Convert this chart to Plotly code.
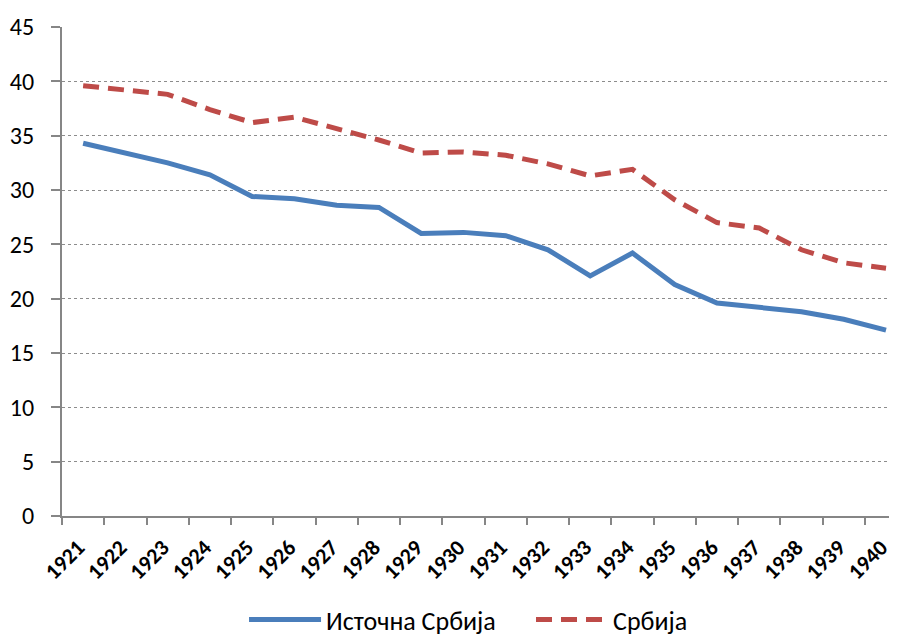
import plotly.graph_objects as go

years = [str(y) for y in range(1921, 1941)]
istocna = [34.3, 33.4, 32.5, 31.4, 29.4, 29.2, 28.6, 28.4, 26.0, 26.1,
           25.8, 24.5, 22.1, 24.2, 21.3, 19.6, 19.2, 18.8, 18.1, 17.1]
srbija = [39.6, 39.2, 38.8, 37.4, 36.2, 36.7, 35.7, 34.6, 33.4, 33.5,
          33.2, 32.4, 31.3, 31.9, 29.1, 27.0, 26.5, 24.5, 23.3, 22.8]
y_ticks = [0, 5, 10, 15, 20, 25, 30, 35, 40, 45]

FONT = "Calibri, Carlito, Lato, sans-serif"

fig = go.Figure()
fig.add_trace(go.Scatter(x=years, y=istocna, mode="lines", name="Источна Србија",
                         line=dict(color="#4a7ebb", width=5)))
fig.add_trace(go.Scatter(x=years, y=srbija, mode="lines", name="Србија",
                         line=dict(color="#be4b48", width=5, dash="16px,9px")))

# page body has an 8px margin, so the figure is sized to fill the rest of the window
fig.update_layout(
    width=889, height=631,
    margin=dict(l=54, r=0, t=19, b=123, autoexpand=False),
    paper_bgcolor="white", plot_bgcolor="white",
    font=dict(family=FONT, size=20, color="black"),
    showlegend=True,
    legend=dict(orientation="h", x=0.218, xanchor="left", y=-0.212, yanchor="middle",
                font=dict(size=26), itemwidth=72, tracegroupgap=0,
                entrywidth=200, entrywidthmode="pixels"),
)
fig.update_xaxes(
    type="category", range=[-0.5, 19.26], automargin=False,
    tickson="boundaries", ticks="outside", ticklen=7, tickcolor="#868686", tickwidth=2,
    showline=True, linecolor="#868686", linewidth=2,
    showgrid=False, tickangle=-45, ticklabelshift=-5, ticklabelstandoff=8,
    tickfont=dict(family=FONT, size=22, color="black", weight="bold"),
)
fig.update_yaxes(
    range=[0, 45], tickvals=y_ticks, automargin=False,
    ticks="outside", ticklen=9, tickcolor="#868686", tickwidth=2,
    showline=True, linecolor="#868686", linewidth=2,
    showgrid=True, gridcolor="#8c8c8c", gridwidth=1, griddash="dot",
    zeroline=False, ticklabelstandoff=12,
    tickfont=dict(family=FONT, size=24, color="black"),
)

fig.write_html("out.html")
